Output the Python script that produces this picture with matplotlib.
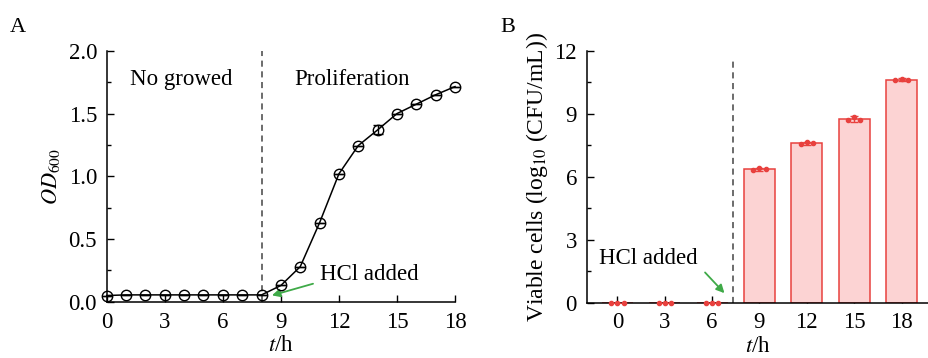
import numpy as np
import matplotlib
matplotlib.use('Agg')
import matplotlib.pyplot as plt
from matplotlib.ticker import MultipleLocator

plt.rcParams['font.family'] = ['Liberation Serif', 'DejaVu Serif']
plt.rcParams['mathtext.fontset'] = 'stix'
plt.rcParams['font.size'] = 16

# ---- panel A data: OD600 growth curve ----
hours_a = [0, 1, 2, 3, 4, 5, 6, 7, 8, 9, 10, 11, 12, 13, 14, 15, 16, 17, 18]
od600 = [0.05, 0.055, 0.055, 0.055, 0.055, 0.055, 0.055, 0.055, 0.055,
         0.13, 0.28, 0.63, 1.02, 1.245, 1.37, 1.50, 1.575, 1.65, 1.715]
od600_err = [0, 0, 0, 0, 0, 0, 0, 0, 0, 0, 0, 0, 0, 0,
             0.035, 0, 0, 0, 0]

# ---- panel B data: viable cells ----
hours_b = ['0', '3', '6', '9', '12', '15', '18']
viable = [0, 0, 0, 6.35, 7.60, 8.75, 10.62]
viable_err = [0, 0, 0, 0.08, 0.07, 0.12, 0.08]
# three replicates per time point
rep1 = [0, 0, 0, 6.32, 7.57, 8.68, 10.60]
rep2 = [0, 0, 0, 6.40, 7.63, 8.84, 10.66]
rep3 = [0, 0, 0, 6.35, 7.60, 8.72, 10.60]

red = '#e8413e'
pink = '#fcd3d3'
green = '#3faa48'

fig = plt.figure(figsize=(9.29, 3.58), dpi=100)

# ================= A =================
ax1 = fig.add_axes([0.1149, 0.157, 0.3749, 0.701])
ax1.errorbar(hours_a, od600, yerr=od600_err, color='black', lw=1.1,
             marker='o', ms=7.5, mfc='none', mec='black', mew=1.0,
             capsize=3.5, elinewidth=1.0, clip_on=False, zorder=3)
ax1.axvline(8, color='#444444', ls=(0, (4, 3)), lw=1.1)
ax1.set_xlim(0, 18)
ax1.set_ylim(0, 2.0)
ax1.xaxis.set_major_locator(MultipleLocator(3))
ax1.yaxis.set_major_locator(MultipleLocator(0.5))
ax1.yaxis.set_minor_locator(MultipleLocator(0.25))
ax1.yaxis.set_major_formatter(matplotlib.ticker.FormatStrFormatter('%.1f'))
ax1.tick_params(direction='in', length=5, width=1.0, labelsize=16.5, pad=7)
ax1.tick_params(which='minor', direction='in', length=3, width=1.0)
for s in ['top', 'right']:
    ax1.spines[s].set_visible(False)
for s in ['left', 'bottom']:
    ax1.spines[s].set_linewidth(1.1)
ax1.set_xlabel('$t$/h', fontsize=16.5, labelpad=2)
ax1.set_ylabel('$OD_{600}$', fontsize=16, labelpad=5)
ax1.text(3.85, 1.77, 'No growed', ha='center', va='center', fontsize=16.5)
ax1.text(12.7, 1.77, 'Proliferation', ha='center', va='center', fontsize=16.5)
ax1.text(11.0, 0.22, 'HCl added', ha='left', va='center', fontsize=16.5)
ax1.annotate('', xy=(8.4, 0.045), xytext=(10.8, 0.15),
             arrowprops=dict(arrowstyle='-|>', color=green, lw=1.3,
                             mutation_scale=12))
fig.text(0.011, 0.91, 'A', fontsize=16)

# ================= B =================
ax2 = fig.add_axes([0.6315, 0.155, 0.3685, 0.703])
pos = np.arange(len(hours_b))
ax2.bar(pos, viable, width=0.66, color=pink, edgecolor=red, lw=1.1, zorder=2)
ax2.errorbar(pos, viable, yerr=viable_err, fmt='none', ecolor=red,
             elinewidth=1.0, capsize=3, zorder=3)
for k, rep in enumerate([rep1, rep2, rep3]):
    ax2.scatter(pos + (k - 1) * 0.13, rep, s=9, color=red, zorder=4,
                clip_on=False)
ax2.axvline(2.44, color='#444444', ls=(0, (4, 3)), lw=1.1, ymax=0.97)
ax2.set_xlim(-0.65, 6.58)
ax2.set_ylim(0, 12)
ax2.set_xticks(pos)
ax2.set_xticklabels(hours_b)
ax2.yaxis.set_major_locator(MultipleLocator(3))
ax2.yaxis.set_minor_locator(MultipleLocator(1.5))
ax2.tick_params(direction='in', length=5, width=1.0, labelsize=16.5, pad=7)
ax2.tick_params(which='minor', direction='in', length=3, width=1.0)
for s in ['top', 'right']:
    ax2.spines[s].set_visible(False)
for s in ['left', 'bottom']:
    ax2.spines[s].set_linewidth(1.1)
ax2.set_xlabel('$t$/h', fontsize=16.5, labelpad=2)
ax2.set_ylabel('Viable cells (log$_{10}$ (CFU/mL))', fontsize=17, labelpad=3)
ax2.text(-0.39, 2.08, 'HCl added', ha='left', va='center', fontsize=16.5)
ax2.annotate('', xy=(2.30, 0.35), xytext=(1.81, 1.53),
             arrowprops=dict(arrowstyle='-|>', color=green, lw=1.3,
                             mutation_scale=12))
fig.text(0.539, 0.91, 'B', fontsize=16)

fig.savefig('out.png', dpi=100)
